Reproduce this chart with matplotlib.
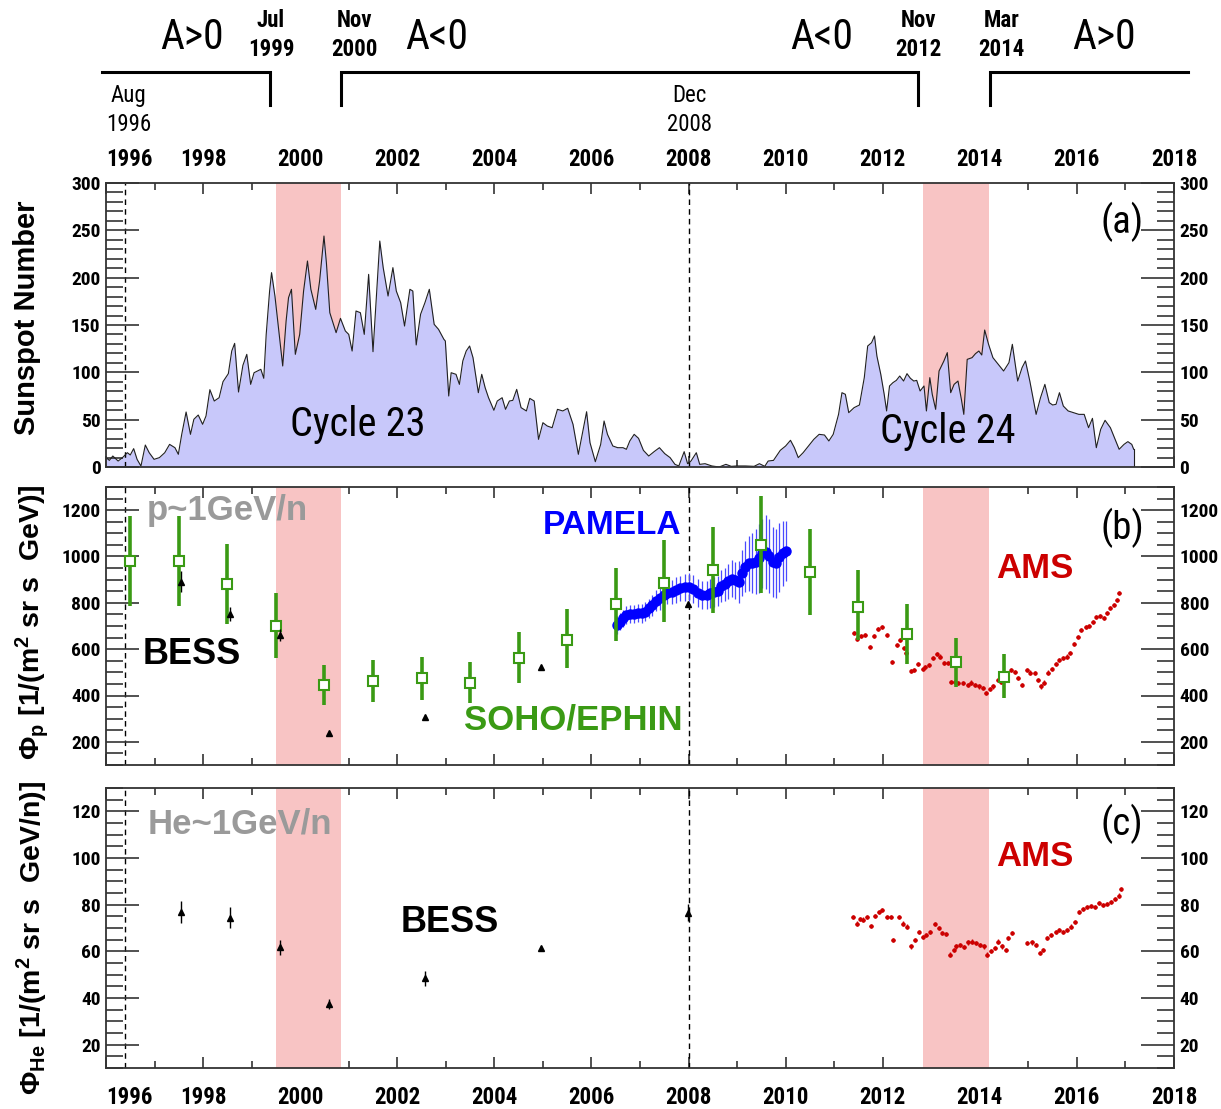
import numpy as np
import matplotlib
matplotlib.use("Agg")
import matplotlib.pyplot as plt
from matplotlib import font_manager
from matplotlib.ticker import MultipleLocator
import matplotlib.transforms as mtransforms

# ------------------------------------------------------------------ data
# monthly sunspot number
sunspot_year = [
    1996.00, 1996.07, 1996.14, 1996.25, 1996.34, 1996.44, 1996.50, 1996.57, 1996.64, 1996.72,
    1996.81, 1996.89, 1996.99, 1997.10, 1997.21, 1997.31, 1997.42, 1997.49, 1997.56, 1997.65,
    1997.74, 1997.81, 1997.90, 1997.99, 1998.06, 1998.14, 1998.23, 1998.33, 1998.41, 1998.52,
    1998.59, 1998.65, 1998.73, 1998.82, 1998.90, 1998.98, 1999.05, 1999.12, 1999.19, 1999.25,
    1999.30, 1999.37, 1999.41, 1999.48, 1999.56, 1999.64, 1999.71, 1999.76, 1999.82, 1999.90,
    1999.99, 2000.07, 2000.15, 2000.22, 2000.32, 2000.40, 2000.49, 2000.54, 2000.61, 2000.74,
    2000.83, 2000.93, 2001.00, 2001.07, 2001.15, 2001.24, 2001.32, 2001.41, 2001.50, 2001.64,
    2001.71, 2001.81, 2001.91, 2001.98, 2002.07, 2002.15, 2002.26, 2002.32, 2002.39, 2002.48,
    2002.57, 2002.66, 2002.76, 2002.85, 2002.96, 2002.99, 2003.06, 2003.11, 2003.21, 2003.28,
    2003.35, 2003.42, 2003.49, 2003.56, 2003.67, 2003.74, 2003.81, 2003.88, 2003.99, 2004.06,
    2004.16, 2004.23, 2004.31, 2004.38, 2004.46, 2004.55, 2004.66, 2004.73, 2004.82, 2004.91,
    2005.00, 2005.09, 2005.19, 2005.30, 2005.41, 2005.51, 2005.62, 2005.73, 2005.83, 2005.90,
    2005.97, 2006.08, 2006.19, 2006.26, 2006.33, 2006.44, 2006.54, 2006.65, 2006.72, 2006.79,
    2006.88, 2006.97, 2007.07, 2007.18, 2007.29, 2007.40, 2007.51, 2007.62, 2007.72, 2007.80,
    2007.91, 2007.98, 2008.05, 2008.16, 2008.23, 2008.34, 2008.48, 2008.63, 2008.77, 2008.88,
    2008.99, 2009.17, 2009.35, 2009.46, 2009.57, 2009.64, 2009.75, 2009.89, 2010.00, 2010.10,
    2010.18, 2010.26, 2010.36, 2010.47, 2010.58, 2010.69, 2010.80, 2010.89, 2010.98, 2011.09,
    2011.16, 2011.23, 2011.30, 2011.41, 2011.52, 2011.62, 2011.69, 2011.77, 2011.83, 2011.88,
    2011.96, 2012.03, 2012.08, 2012.14, 2012.21, 2012.28, 2012.35, 2012.43, 2012.50, 2012.57,
    2012.64, 2012.70, 2012.77, 2012.85, 2012.90, 2012.97, 2013.02, 2013.09, 2013.16, 2013.26,
    2013.33, 2013.40, 2013.47, 2013.55, 2013.62, 2013.67, 2013.74, 2013.84, 2013.91, 2013.98,
    2014.04, 2014.10, 2014.18, 2014.27, 2014.38, 2014.49, 2014.60, 2014.67, 2014.74, 2014.78,
    2014.87, 2014.94, 2015.03, 2015.16, 2015.25, 2015.34, 2015.43, 2015.50, 2015.57, 2015.64,
    2015.72, 2015.82, 2015.93, 2016.04, 2016.15, 2016.24, 2016.32, 2016.40, 2016.49, 2016.58,
    2016.69, 2016.80, 2016.87, 2016.97, 2017.05, 2017.13, 2017.17]
sunspot_number = [
    9.9, 7.0, 11.6, 6.3, 9.9, 15.1, 12.7, 19.4, 8.1, 1.0,
    23.2, 15.1, 8.1, 9.9, 15.1, 23.9, 20.4, 13.4, 34.5, 58.1,
    34.5, 50.4, 54.9, 45.1, 53.9, 81.7, 69.7, 73.2, 90.1, 98.6,
    122.5, 130.6, 79.2, 107.4, 119.0, 87.3, 99.6, 101.4, 103.2, 93.7,
    140.1, 185.9, 205.3, 180.6, 143.7, 106.7, 154.2, 178.9, 187.7, 119.0,
    140.1, 185.9, 217.6, 187.7, 166.5, 196.5, 244.0, 215.8, 163.0, 141.9,
    157.0, 143.7, 140.1, 122.5, 164.8, 163.0, 140.1, 203.5, 121.8, 238.7,
    210.6, 180.6, 210.6, 185.9, 173.6, 148.9, 187.7, 185.9, 128.9, 161.3,
    173.6, 187.7, 150.7, 145.4, 134.9, 133.1, 75.0, 99.6, 97.9, 87.3,
    112.0, 122.5, 127.8, 115.5, 78.5, 97.9, 83.8, 73.2, 59.9, 69.7,
    73.2, 60.9, 69.7, 70.4, 82.0, 62.7, 59.2, 72.5, 69.7, 29.2,
    46.8, 43.3, 41.5, 60.9, 59.2, 62.0, 45.1, 13.4, 39.8, 58.4,
    25.7, 5.6, 23.9, 48.6, 34.5, 22.2, 20.4, 20.4, 18.7, 27.5,
    34.5, 30.3, 17.6, 11.6, 16.2, 20.4, 14.1, 9.9, 2.8, 1.1,
    16.2, 3.5, 6.3, 15.1, 2.8, 3.5, 1.1, 0.0, 2.8, 0.7,
    1.1, 1.1, 0.7, 3.5, 0.7, 6.3, 7.0, 17.6, 22.2, 28.2,
    20.4, 9.9, 15.1, 22.2, 29.2, 34.5, 33.8, 27.5, 34.5, 55.6,
    78.5, 76.8, 57.4, 62.7, 65.5, 94.4, 127.8, 131.3, 138.4, 117.2,
    97.9, 76.8, 59.2, 85.6, 89.1, 91.5, 96.1, 90.8, 98.6, 93.7,
    90.8, 91.5, 80.3, 85.6, 59.2, 94.4, 76.8, 60.9, 101.4, 112.0,
    120.8, 78.5, 87.3, 90.8, 71.5, 55.6, 113.7, 115.5, 119.7, 122.5,
    118.3, 144.7, 129.6, 115.5, 108.4, 101.4, 110.2, 129.6, 104.9, 90.8,
    104.9, 112.0, 90.8, 55.6, 73.2, 87.3, 68.0, 65.5, 66.2, 78.5,
    64.4, 59.2, 57.4, 55.6, 55.6, 41.5, 51.4, 20.4, 39.8, 49.3,
    41.5, 27.5, 18.7, 23.9, 26.8, 23.9, 18.7]

# SOHO/EPHIN protons
ephin_year = [1996.5, 1997.5, 1998.5, 1999.5, 2000.5, 2001.5, 2002.5, 2003.5, 2004.5, 2005.5,
              2006.5, 2007.5, 2008.5, 2009.5, 2010.5, 2011.5, 2012.5, 2013.5, 2014.5]
ephin_flux = [981, 981, 881, 701, 446, 463, 474, 453, 563, 640,
              794, 887, 941, 1049, 934, 783, 664, 546, 480]
ephin_upper = [1175, 1175, 1056, 841, 532, 553, 565, 546, 676, 772,
               951, 1071, 1128, 1260, 1117, 941, 794, 650, 579]
ephin_lower = [787, 787, 709, 563, 359, 374, 381, 367, 456, 518,
               637, 719, 755, 844, 747, 640, 535, 438, 388]

# BESS
bess_year = [1997.54, 1998.55, 1999.59, 2000.59, 2002.58, 2004.96, 2007.99]
bess_p = [891, 752, 661, 237, 306, 525, 794]
bess_p_err = [45, 30, 25, 8, 8, 8, 8]
bess_he = [76.9, 74.3, 61.7, 37.3, 48.4, 61.4, 76.6]
bess_he_err = [4.7, 4.5, 3.2, 2.2, 3.3, 1.0, 3.5]

# PAMELA protons
pamela_year = [2006.53, 2006.59, 2006.65, 2006.72, 2006.80, 2006.88, 2006.96, 2007.05, 2007.11, 2007.18,
               2007.25, 2007.32, 2007.41, 2007.49, 2007.56, 2007.66, 2007.74, 2007.83, 2007.93, 2008.01,
               2008.10, 2008.19, 2008.28, 2008.37, 2008.45, 2008.53, 2008.60, 2008.67, 2008.75, 2008.82,
               2008.89, 2008.96, 2009.03, 2009.10, 2009.17, 2009.24, 2009.31, 2009.38, 2009.45, 2009.52,
               2009.59, 2009.66, 2009.73, 2009.80, 2009.87, 2009.94, 2010.00]
pamela_flux = [704, 719, 733, 747, 752, 752, 755, 755, 762, 776,
               790, 809, 819, 834, 844, 848, 855, 862, 867, 867,
               858, 841, 834, 834, 841, 846, 850, 872, 880, 893,
               905, 897, 890, 930, 955, 970, 973, 977, 992, 1013,
               1020, 1002, 977, 970, 996, 1013, 1025]
pamela_err = [40, 38, 38, 38, 38, 38, 38, 40, 40, 42,
              45, 45, 48, 50, 50, 52, 55, 55, 58, 60,
              60, 60, 60, 60, 62, 65, 65, 70, 70, 75,
              80, 80, 90, 100, 110, 120, 130, 140, 150, 150,
              160, 160, 150, 150, 150, 140, 130]

# AMS protons
ams_p_year = [2011.41, 2011.48, 2011.55, 2011.63, 2011.74, 2011.81, 2011.90, 2011.99, 2012.08, 2012.20,
              2012.29, 2012.36, 2012.43, 2012.48, 2012.59, 2012.64, 2012.73, 2012.83, 2012.88, 2012.95,
              2013.04, 2013.11, 2013.18, 2013.27, 2013.34, 2013.41, 2013.48, 2013.55, 2013.66, 2013.75,
              2013.82, 2013.90, 2013.98, 2014.06, 2014.13, 2014.20, 2014.27, 2014.37, 2014.44, 2014.54,
              2014.65, 2014.72, 2014.79, 2014.86, 2014.97, 2015.04, 2015.13, 2015.20, 2015.25, 2015.32,
              2015.41, 2015.48, 2015.57, 2015.64, 2015.72, 2015.79, 2015.86, 2015.95, 2016.02, 2016.09,
              2016.18, 2016.25, 2016.33, 2016.40, 2016.48, 2016.55, 2016.62, 2016.69, 2016.76, 2016.82,
              2016.87]
ams_p_flux = [668, 643, 657, 661, 611, 657, 687, 697, 661, 546,
              618, 640, 604, 585, 507, 510, 536, 513, 522, 532,
              561, 579, 568, 542, 539, 460, 460, 453, 453, 446,
              456, 446, 439, 431, 410, 427, 439, 467, 460, 482,
              510, 503, 474, 446, 510, 499, 496, 467, 439, 456,
              499, 513, 535, 553, 561, 568, 582, 622, 654, 683,
              697, 700, 719, 740, 743, 733, 755, 776, 790, 812,
              841]
ams_p_err = 9

# AMS helium
ams_he_year = [2011.39, 2011.47, 2011.54, 2011.60, 2011.68, 2011.76, 2011.84, 2011.92, 2011.99, 2012.09,
               2012.17, 2012.21, 2012.33, 2012.41, 2012.49, 2012.58, 2012.66, 2012.74, 2012.82, 2012.90,
               2012.98, 2013.07, 2013.15, 2013.23, 2013.31, 2013.39, 2013.46, 2013.51, 2013.60, 2013.68,
               2013.76, 2013.84, 2013.92, 2014.00, 2014.09, 2014.15, 2014.23, 2014.31, 2014.37, 2014.45,
               2014.54, 2014.59, 2014.67, 2014.98, 2015.07, 2015.15, 2015.23, 2015.31, 2015.39, 2015.47,
               2015.56, 2015.64, 2015.72, 2015.80, 2015.88, 2015.96, 2016.05, 2016.13, 2016.21, 2016.29,
               2016.37, 2016.45, 2016.54, 2016.62, 2016.70, 2016.78, 2016.86, 2016.90]
ams_he_flux = [74.8, 71.9, 73.8, 73.6, 74.8, 70.8, 75.1, 76.9, 77.6, 74.8,
               74.8, 64.9, 74.8, 71.9, 70.6, 62.1, 64.9, 68.4, 66.3, 67.0,
               68.4, 71.7, 69.9, 67.7, 67.5, 58.6, 60.7, 62.1, 62.8, 61.9,
               63.8, 64.2, 63.5, 62.8, 62.1, 58.6, 60.0, 61.4, 64.2, 62.1,
               60.7, 65.6, 67.7, 63.5, 63.8, 62.8, 59.3, 60.7, 65.6, 67.0,
               68.4, 69.1, 68.4, 69.1, 70.6, 72.7, 76.9, 78.3, 79.0, 79.3,
               79.0, 80.7, 79.7, 80.4, 81.1, 82.5, 83.9, 86.7]
ams_he_err = 0.9
bartels_half = 13.5 / 365.25

# solar magnetic field reversal periods and reference epochs
reversal_periods = [(1999.50, 2000.85), (2012.83, 2014.18)]
dashed_epochs = [1996.40, 2008.00]

year_ticks = [1996, 1998, 2000, 2002, 2004, 2006, 2008, 2010, 2012, 2014, 2016, 2018]
year_labels = ["1996", "1998", "2000", "2002", "2004", "2006", "2008", "2010", "2012", "2014", "2016", "2018"]
ss_ticks = [0, 50, 100, 150, 200, 250, 300]
p_ticks = [200, 400, 600, 800, 1000, 1200]
he_ticks = [20, 40, 60, 80, 100, 120]

# ------------------------------------------------------------------ fonts
fl = font_manager.fontManager.ttflist
names = {f.name for f in fl}
NARROW, STRETCH = None, "normal"
for n in ["Liberation Sans Narrow", "Arial Narrow", "Roboto Condensed", "Open Sans Condensed",
          "DejaVu Sans Condensed", "Noto Sans Condensed"]:
    if n in names:
        NARROW = n
        break
if NARROW is None:
    for fam in ["Roboto", "Noto Sans", "Open Sans", "DejaVu Sans", "Inter"]:
        if any(f.name == fam and f.stretch == "condensed" for f in fl):
            NARROW, STRETCH = fam, "condensed"
            break
IS_NARROW = NARROW is not None
if NARROW is None:
    NARROW = "Liberation Sans"
SANS = "Liberation Sans"

plt.rcParams["font.family"] = [NARROW, "DejaVu Sans"]
plt.rcParams["font.stretch"] = STRETCH
plt.rcParams["font.weight"] = "bold"
plt.rcParams["mathtext.fontset"] = "custom"
plt.rcParams["mathtext.rm"] = SANS + ":bold"
plt.rcParams["mathtext.bf"] = SANS + ":bold"
plt.rcParams["mathtext.it"] = SANS + ":italic:bold"

YLAB = 14 if IS_NARROW else 12.5
XLAB = 16.5 if IS_NARROW else 15
BIGN = 30 if IS_NARROW else 27
CYC = 29 if IS_NARROW else 27

PINK = "#f8c4c4"
FILL = "#c8c8fa"
GREEN = "#3a9a14"
RED = "#cc0000"
BLUE = "#0000ff"
GRAY = "#9a9a9a"
FRAME = "#333333"

fig = plt.figure(figsize=(12.21, 11.09), dpi=100)
FW, FH = 1221.0, 1109.0
L, R = 106, 1174


def box(top, bot):
    return [L / FW, 1 - bot / FH, (R - L) / FW, (bot - top) / FH]


axA = fig.add_axes(box(183, 467))
axB = fig.add_axes(box(487, 765))
axC = fig.add_axes(box(788, 1068))


def style(ax, ylim, yticks, yminor):
    ax.set_xlim(1996, 2018)
    ax.set_ylim(*ylim)
    ax.set_xticks(year_ticks, labels=year_labels)
    ax.xaxis.set_minor_locator(MultipleLocator(1))
    ax.set_yticks(yticks, labels=[str(v) for v in yticks])
    ax.yaxis.set_minor_locator(MultipleLocator(yminor))
    ax.tick_params(axis="x", which="both", direction="in", top=True, bottom=True,
                   labelbottom=False, labeltop=False, color=FRAME, width=1.2, labelsize=XLAB)
    ax.tick_params(axis="x", which="major", length=8)
    ax.tick_params(axis="x", which="minor", length=5)
    ax.tick_params(axis="y", which="both", direction="in", left=True, right=True,
                   labelleft=True, labelright=True, color=FRAME, width=1.2, pad=4, labelsize=YLAB)
    ax.tick_params(axis="y", which="major", length=24)
    ax.tick_params(axis="y", which="minor", length=12)
    for s in ax.spines.values():
        s.set_color(FRAME)
        s.set_linewidth(1.3)
    ax.xaxis.set_zorder(0.5)
    for a, b in reversal_periods:
        ax.axvspan(a, b, color=PINK, lw=0, zorder=0.8)
    for d in dashed_epochs:
        ax.axvline(d, color="k", lw=1.0, ls=(0, (4, 3)), zorder=1.5)


style(axA, (0, 300), ss_ticks, 10)
style(axB, (100, 1300), p_ticks, 50)
style(axC, (10, 130), he_ticks, 5)

# ---------------- panel (a)
axA.fill_between(sunspot_year, sunspot_number, 0, color=FILL, lw=0, zorder=1)
axA.plot(sunspot_year, sunspot_number, color="#202020", lw=0.8, zorder=2)
axA.plot([sunspot_year[-1], sunspot_year[-1]], [sunspot_number[-1], 0], color="#202020", lw=0.8, zorder=2)
axA.text(2016.93, 259, "(a)", ha="center", va="center", fontsize=28, fontweight="normal")
axA.text(2001.18, 45, "Cycle 23", ha="center", va="center", fontsize=CYC, fontweight="normal")
axA.text(2013.34, 38, "Cycle 24", ha="center", va="center", fontsize=CYC, fontweight="normal")

# ---------------- panel (b)
axB.errorbar(pamela_year, pamela_flux, yerr=pamela_err, fmt="o", ms=6.5, color=BLUE,
             ecolor="#4a4aff", elinewidth=0.9, capsize=0, zorder=3)
axB.errorbar(ams_p_year, ams_p_flux, yerr=ams_p_err, xerr=bartels_half, fmt="o", ms=2.2,
             color=RED, elinewidth=1.0, capsize=0, zorder=3)
ephin_flux_a = np.array(ephin_flux)
axB.errorbar(ephin_year, ephin_flux,
             yerr=[ephin_flux_a - np.array(ephin_lower), np.array(ephin_upper) - ephin_flux_a],
             fmt="s", ms=7.5, mfc="white", mec=GREEN, mew=1.5, ecolor=GREEN,
             elinewidth=2.6, capsize=0, zorder=4)
axB.errorbar(bess_year, bess_p, yerr=bess_p_err, fmt="^", ms=5, color="k",
             elinewidth=1.0, capsize=0, zorder=5)
axB.text(1996.85, 1200, "p~1GeV/n", ha="left", va="center", fontsize=25, color=GRAY,
         family=SANS, stretch="normal")
axB.text(2006.43, 1135, "PAMELA", ha="center", va="center", fontsize=24, color=BLUE,
         family=SANS, stretch="normal")
axB.text(1997.77, 575, "BESS", ha="center", va="center", fontsize=26, color="k",
         family=SANS, stretch="normal")
axB.text(2005.63, 295, "SOHO/EPHIN", ha="center", va="center", fontsize=25, color=GREEN,
         family=SANS, stretch="normal")
axB.text(2015.13, 950, "AMS", ha="center", va="center", fontsize=25, color=RED,
         family=SANS, stretch="normal")
axB.text(2016.93, 1122, "(b)", ha="center", va="center", fontsize=28, fontweight="normal")

# ---------------- panel (c)
axC.errorbar(ams_he_year, ams_he_flux, yerr=ams_he_err, xerr=bartels_half, fmt="o", ms=2.2,
             color=RED, elinewidth=1.0, capsize=0, zorder=3)
axC.errorbar(bess_year, bess_he, yerr=bess_he_err, fmt="^", ms=5, color="k",
             elinewidth=1.0, capsize=0, zorder=5)
axC.text(1996.85, 114.6, "He~1GeV/n", ha="left", va="center", fontsize=25, color=GRAY,
         family=SANS, stretch="normal")
axC.text(2003.09, 72.5, "BESS", ha="center", va="center", fontsize=26, color="k",
         family=SANS, stretch="normal")
axC.text(2015.13, 100.8, "AMS", ha="center", va="center", fontsize=25, color=RED,
         family=SANS, stretch="normal")
axC.text(2016.93, 114.6, "(c)", ha="center", va="center", fontsize=28, fontweight="normal")

# ---------------- x tick labels (top of a, bottom of c)
axA.tick_params(axis="x", which="major", labeltop=True, pad=9)
axC.tick_params(axis="x", which="major", labelbottom=True, pad=13)
shift = mtransforms.ScaledTranslation(23 / 100.0, 0, fig.dpi_scale_trans)
tA = axA.xaxis.get_major_ticks()[0]
tA.label2.set_transform(tA.label2.get_transform() + shift)
tC = axC.xaxis.get_major_ticks()[0]
tC.label1.set_transform(tC.label1.get_transform() + shift)

# ---------------- polarity annotation above panel (a)
trans = mtransforms.blended_transform_factory(axA.transData, axA.transAxes)
yh, yl = 1.391, 1.275
line_kw = dict(transform=trans, clip_on=False, color="k", lw=2.2, solid_joinstyle="miter")
axA.plot([1995.92, 1999.38, 1999.38], [yh, yh, yl], **line_kw)
axA.plot([2000.85, 2000.85, 2012.72, 2012.72], [yl, yh, yh, yl], **line_kw)
axA.plot([2014.21, 2014.21, 2018.29], [yl, yh, yh], **line_kw)
for x, s in [(1997.77, "A>0"), (2002.82, "A<0"), (2010.74, "A<0"), (2016.56, "A>0")]:
    axA.text(x, 1.512, s, transform=trans, ha="center", va="center", fontsize=BIGN,
             fontweight="normal", clip_on=False)
for x, s in [(1999.40, "Jul\n1999"), (2001.11, "Nov\n2000"), (2012.74, "Nov\n2012"), (2014.45, "Mar\n2014")]:
    axA.text(x, 1.521, s, transform=trans, ha="center", va="center", fontsize=XLAB,
             linespacing=1.3, clip_on=False)
for x, s in [(1996.47, "Aug\n1996"), (2008.02, "Dec\n2008")]:
    axA.text(x, 1.257, s, transform=trans, ha="center", va="center", fontsize=XLAB,
             fontweight="normal", linespacing=1.3, clip_on=False)

# ---------------- y-axis titles
fig.text(27 / FW, 1 - 318 / FH, "Sunspot Number", rotation=90, ha="center", va="center",
         fontsize=21, family=SANS, stretch="normal")
fig.text(32 / FW, 1 - 622 / FH, "Φ$_{\\mathbf{p}}$ [1/(m$^{\\mathbf{2}}$ sr s  GeV)]", rotation=90,
         ha="center", va="center", fontsize=20.5, family=SANS, stretch="normal")
fig.text(32 / FW, 1 - 938 / FH, "Φ$_{\\mathbf{He}}$ [1/(m$^{\\mathbf{2}}$ sr s  GeV/n)]", rotation=90,
         ha="center", va="center", fontsize=20.5, family=SANS, stretch="normal")

fig.savefig("out.png", dpi=100)
